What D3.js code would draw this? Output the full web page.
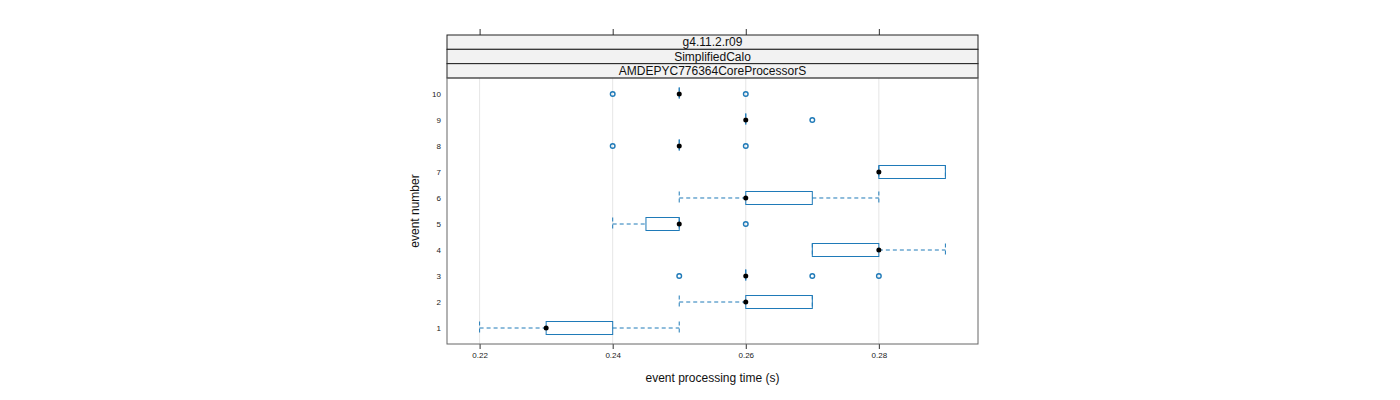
<!DOCTYPE html>
<html>
<head>
<meta charset="utf-8">
<script src="https://cdn.jsdelivr.net/npm/d3@7"></script>
<style>
  body { margin: 0; background: #fff; }
  text { font-family: "Liberation Sans", Arial, sans-serif; }
</style>
</head>
<body>
<div id="chart"></div>
<script>
// event numbers and box statistics (seconds)
var events      = [1, 2, 3, 4, 5, 6, 7, 8, 9, 10];
var whiskerLow  = [0.22, 0.25, 0.26, 0.27, 0.24, 0.25, 0.28, 0.25, 0.26, 0.25];
var q1          = [0.23, 0.26, 0.26, 0.27, 0.245, 0.26, 0.28, 0.25, 0.26, 0.25];
var medians     = [0.23, 0.26, 0.26, 0.28, 0.25, 0.26, 0.28, 0.25, 0.26, 0.25];
var q3          = [0.24, 0.27, 0.26, 0.28, 0.25, 0.27, 0.29, 0.25, 0.26, 0.25];
var whiskerHigh = [0.25, 0.27, 0.26, 0.29, 0.25, 0.28, 0.29, 0.25, 0.26, 0.25];
var outliers    = [[], [], [0.25, 0.27, 0.28], [], [0.26], [], [], [0.24, 0.26], [0.27], [0.24, 0.26]];
var xTicks      = [0.22, 0.24, 0.26, 0.28];
var stripLabels = ["g4.11.2.r09", "SimplifiedCalo", "AMDEPYC776364CoreProcessorS"];

var blue = "#1f7ab8";

var panel = { left: 447, right: 978, top: 78, bottom: 344 };
var stripTop = 35, stripH = 14.33;

var svg = d3.select("#chart").append("svg")
    .attr("width", 1400)
    .attr("height", 400);

var x = d3.scaleLinear()
    .domain([0.2151, 0.2949])
    .range([panel.left, panel.right]);

var y = d3.scaleLinear()
    .domain([0.385, 10.615])
    .range([panel.bottom, panel.top]);

var halfBox = 6.5;

// grid lines
svg.selectAll(".grid")
    .data(xTicks)
    .enter().append("line")
    .attr("class", "grid")
    .attr("x1", function(d) { return x(d); })
    .attr("x2", function(d) { return x(d); })
    .attr("y1", panel.top)
    .attr("y2", panel.bottom)
    .attr("stroke", "#e6e6e6")
    .attr("stroke-width", 1);

// x axis bottom
var xAxisBottom = d3.axisBottom(x)
    .tickValues(xTicks)
    .tickSize(5)
    .tickFormat(d3.format(".2f"));

var gb = svg.append("g")
    .attr("transform", "translate(0," + panel.bottom + ")")
    .call(xAxisBottom);
gb.select(".domain").remove();
gb.selectAll(".tick line").attr("stroke", "#333");
gb.selectAll(".tick text")
    .attr("y", 8)
    .style("font-size", "8px")
    .style("font-family", "'Liberation Sans', Arial, sans-serif")
    .attr("fill", "#222");

// x axis top (ticks only)
var xAxisTop = d3.axisTop(x)
    .tickValues(xTicks)
    .tickSize(6)
    .tickFormat("");
var gt = svg.append("g")
    .attr("transform", "translate(0," + stripTop + ")")
    .call(xAxisTop);
gt.select(".domain").remove();
gt.selectAll(".tick line").attr("stroke", "#333");

// y axis labels
var yAxis = d3.axisLeft(y)
    .tickValues(events)
    .tickSize(0)
    .tickFormat(d3.format("d"));
var gy = svg.append("g")
    .attr("transform", "translate(" + (panel.left - 6) + ",0)")
    .call(yAxis);
gy.select(".domain").remove();
gy.selectAll(".tick text")
    .attr("x", 0)
    .style("font-size", "8px")
    .style("font-family", "'Liberation Sans', Arial, sans-serif")
    .attr("fill", "#222");

// strips
stripLabels.forEach(function(lab, i) {
    var top = stripTop + i * stripH;
    svg.append("rect")
        .attr("x", panel.left)
        .attr("y", top)
        .attr("width", panel.right - panel.left)
        .attr("height", stripH)
        .attr("fill", "#f2f2f2")
        .attr("stroke", "#222")
        .attr("stroke-width", 1);
    svg.append("text")
        .attr("x", (panel.left + panel.right) / 2)
        .attr("y", top + stripH / 2 + 4.3)
        .attr("text-anchor", "middle")
        .style("font-size", "12px")
        .attr("fill", "#111")
        .text(lab);
});

// panel frame
svg.append("rect")
    .attr("x", panel.left)
    .attr("y", panel.top)
    .attr("width", panel.right - panel.left)
    .attr("height", panel.bottom - panel.top)
    .attr("fill", "none")
    .attr("stroke", "#666")
    .attr("stroke-width", 1);

// boxes
var boxData = events.map(function(e, i) {
    return { ev: e, lo: whiskerLow[i], q1: q1[i], med: medians[i], q3: q3[i], hi: whiskerHigh[i], out: outliers[i] };
});

var g = svg.append("g");

boxData.forEach(function(d) {
    var cy = y(d.ev);
    // whiskers
    if (d.lo < d.q1) {
        g.append("line")
            .attr("x1", x(d.lo)).attr("x2", x(d.q1))
            .attr("y1", cy).attr("y2", cy)
            .attr("stroke", blue).attr("stroke-dasharray", "4,3");
    }
    if (d.hi > d.q3) {
        g.append("line")
            .attr("x1", x(d.q3)).attr("x2", x(d.hi))
            .attr("y1", cy).attr("y2", cy)
            .attr("stroke", blue).attr("stroke-dasharray", "4,3");
    }
    // staples
    [d.lo, d.hi].forEach(function(v) {
        g.append("line")
            .attr("x1", x(v)).attr("x2", x(v))
            .attr("y1", cy - halfBox).attr("y2", cy + halfBox)
            .attr("stroke", blue).attr("stroke-dasharray", "4,3");
    });
    // box
    g.append("rect")
        .attr("x", x(d.q1))
        .attr("y", cy - halfBox)
        .attr("width", Math.max(0, x(d.q3) - x(d.q1)))
        .attr("height", halfBox * 2)
        .attr("fill", "none")
        .attr("stroke", blue)
        .attr("stroke-width", 1);
    // outliers
    d.out.forEach(function(v) {
        g.append("circle")
            .attr("cx", x(v))
            .attr("cy", cy)
            .attr("r", 2.3)
            .attr("fill", "none")
            .attr("stroke", blue)
            .attr("stroke-width", 1.4);
    });
    // median
    g.append("circle")
        .attr("cx", x(d.med))
        .attr("cy", cy)
        .attr("r", 2.5)
        .attr("fill", "#000");
});

// axis titles
svg.append("text")
    .attr("x", (panel.left + panel.right) / 2)
    .attr("y", 382)
    .attr("text-anchor", "middle")
    .style("font-size", "12px")
    .attr("fill", "#111")
    .text("event processing time (s)");

svg.append("text")
    .attr("transform", "translate(419," + ((panel.top + panel.bottom) / 2) + ") rotate(-90)")
    .attr("text-anchor", "middle")
    .style("font-size", "12px")
    .attr("fill", "#111")
    .text("event number");
</script>
</body>
</html>
